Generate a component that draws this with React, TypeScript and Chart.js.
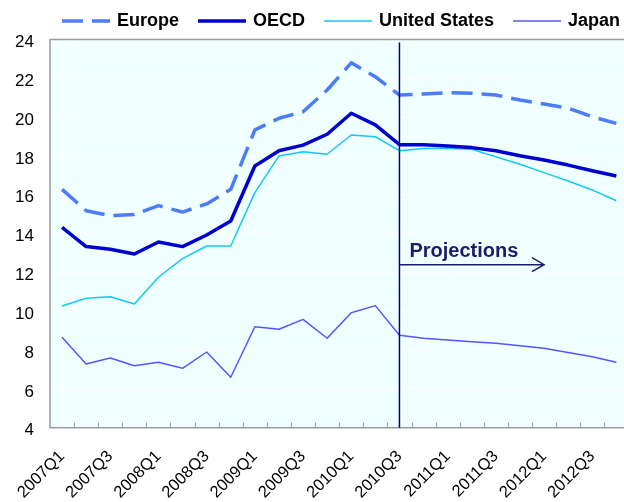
import React, { useEffect, useRef } from "react";
import { Chart, registerables } from "chart.js";

Chart.register(...registerables);

const categories = [
  "2007Q1", "2007Q2", "2007Q3", "2007Q4",
  "2008Q1", "2008Q2", "2008Q3", "2008Q4",
  "2009Q1", "2009Q2", "2009Q3", "2009Q4",
  "2010Q1", "2010Q2", "2010Q3", "2010Q4",
  "2011Q1", "2011Q2", "2011Q3", "2011Q4",
  "2012Q1", "2012Q2", "2012Q3", "2012Q4",
];

const europe = [16.28, 15.18, 14.92, 14.99, 15.44, 15.11, 15.53, 16.28, 19.34, 19.94, 20.28, 21.4, 22.8, 22.08, 21.14, 21.19, 21.26, 21.23, 21.14, 20.88, 20.68, 20.46, 20.02, 19.68];
const oecd = [14.32, 13.33, 13.19, 12.95, 13.57, 13.33, 13.93, 14.65, 17.48, 18.27, 18.56, 19.12, 20.2, 19.6, 18.58, 18.58, 18.51, 18.43, 18.27, 18.01, 17.79, 17.53, 17.24, 16.97];
const unitedStates = [10.27, 10.67, 10.75, 10.37, 11.75, 12.71, 13.36, 13.36, 16.11, 18.0, 18.22, 18.09, 19.08, 18.99, 18.27, 18.39, 18.39, 18.34, 17.96, 17.57, 17.14, 16.71, 16.25, 15.69];
const japan = [8.66, 7.28, 7.59, 7.19, 7.37, 7.06, 7.9, 6.6, 9.2, 9.07, 9.58, 8.61, 9.92, 10.29, 8.76, 8.61, 8.52, 8.43, 8.35, 8.22, 8.09, 7.88, 7.66, 7.37];

const seriesNames = ["Europe", "OECD", "United States", "Japan"];

const yMin = 4;
const yMax = 24;
const yStep = 2;

const projectionStart = "2010Q3";
const projectionArrowEnd = "2012Q1";
const projectionLabel = "Projections";
const projectionTextValue = 13.1;
const projectionArrowValue = 12.4;

const FONT = "'Liberation Sans', Arial, Helvetica, sans-serif";

const decorPlugin = {
  id: "decor",
  beforeDraw(chart: any) {
    const { ctx, chartArea } = chart;
    ctx.save();
    ctx.fillStyle = "#F0FFFF";
    ctx.fillRect(chartArea.left, chartArea.top, chartArea.right - chartArea.left, chartArea.bottom - chartArea.top);
    ctx.restore();
  },
  afterDatasetsDraw(chart: any) {
    const { ctx, chartArea, scales } = chart;
    const x = scales.x;
    const y = scales.y;
    ctx.save();
    // frame
    ctx.strokeStyle = "#9a9a9a";
    ctx.lineWidth = 1.5;
    ctx.strokeRect(chartArea.left, chartArea.top, chartArea.right - chartArea.left, chartArea.bottom - chartArea.top);
    // inward tick marks at category boundaries
    const n = categories.length;
    const step = (x.getPixelForValue(1) - x.getPixelForValue(0));
    ctx.lineWidth = 1;
    ctx.strokeStyle = "#9a9a9a";
    ctx.beginPath();
    for (let i = 1; i < n; i++) {
      const px = Math.round(x.getPixelForValue(i) - step / 2) + 0.5;
      ctx.moveTo(px, chartArea.bottom);
      ctx.lineTo(px, chartArea.bottom - 5);
    }
    ctx.stroke();
    // projection line
    const xs = x.getPixelForValue(categories.indexOf(projectionStart));
    const xe = x.getPixelForValue(categories.indexOf(projectionArrowEnd));
    ctx.strokeStyle = "#000080";
    ctx.lineWidth = 1.5;
    ctx.beginPath();
    ctx.moveTo(xs, chartArea.top + 3);
    ctx.lineTo(xs, chartArea.bottom);
    ctx.stroke();
    // arrow
    const ya = y.getPixelForValue(projectionArrowValue);
    ctx.strokeStyle = "#1c1c6c";
    ctx.lineWidth = 1.5;
    ctx.beginPath();
    ctx.moveTo(xs, ya);
    ctx.lineTo(xe, ya);
    ctx.moveTo(xe - 12, ya - 7);
    ctx.lineTo(xe, ya);
    ctx.lineTo(xe - 12, ya + 7);
    ctx.stroke();
    // label
    ctx.fillStyle = "#1c1c6c";
    ctx.font = `bold 20px ${FONT}`;
    ctx.textAlign = "left";
    ctx.textBaseline = "middle";
    ctx.fillText(projectionLabel, xs + 10, y.getPixelForValue(projectionTextValue));
    ctx.restore();
  },
  afterDraw(chart: any) {
    const { ctx } = chart;
    ctx.save();
    ctx.font = `bold 18px ${FONT}`;
    ctx.textBaseline = "middle";
    ctx.textAlign = "left";
    let cx = 62;
    const cy = 21;
    chart.data.datasets.forEach((ds: any) => {
      ctx.strokeStyle = ds.borderColor;
      ctx.lineWidth = ds.borderWidth;
      ctx.setLineDash(ds.borderDash || []);
      ctx.beginPath();
      ctx.moveTo(cx, cy);
      ctx.lineTo(cx + 48, cy);
      ctx.stroke();
      ctx.setLineDash([]);
      cx += 48 + 7;
      ctx.fillStyle = "#000";
      ctx.fillText(ds.label, cx, cy);
      cx += ctx.measureText(ds.label).width + 19;
    });
    ctx.restore();
  },
};

export default function App() {
  const ref = useRef<HTMLCanvasElement | null>(null);

  useEffect(() => {
    if (!ref.current) return;
    const chart = new Chart(ref.current, {
      type: "line",
      data: {
        labels: categories,
        datasets: [
          { label: seriesNames[0], data: europe, borderColor: "#4d7cf7", borderWidth: 3.5, borderDash: [21, 9], pointRadius: 0, fill: false, tension: 0 },
          { label: seriesNames[1], data: oecd, borderColor: "#0000cc", borderWidth: 3.5, pointRadius: 0, fill: false, tension: 0 },
          { label: seriesNames[2], data: unitedStates, borderColor: "#14c8f5", borderWidth: 1.5, pointRadius: 0, fill: false, tension: 0 },
          { label: seriesNames[3], data: japan, borderColor: "#5555ff", borderWidth: 1.5, pointRadius: 0, fill: false, tension: 0 },
        ],
      },
      options: {
        responsive: false,
        devicePixelRatio: 1,
        animation: false,
        layout: { padding: { top: 39.5, left: 0, right: 3.6, bottom: 0 } },
        plugins: { legend: { display: false }, tooltip: { enabled: false } },
        elements: { line: { borderJoinStyle: "round" } },
        scales: {
          x: {
            type: "category",
            offset: true,
            grid: { display: false },
            border: { display: false },
            ticks: {
              autoSkip: false,
              minRotation: 45,
              maxRotation: 45,
              padding: 11,
              color: "#000",
              font: { family: FONT, size: 16.5 },
              callback: (_v: any, i: number) => (i % 2 === 0 ? categories[i] : ""),
            },
            afterFit: (s: any) => {
              s.height = 74.3;
              s.paddingLeft = 0;
              s.paddingRight = 0;
            },
          },
          y: {
            min: yMin,
            max: yMax,
            grid: { color: "#ffffff", lineWidth: 1, drawTicks: false },
            border: { display: false },
            ticks: {
              stepSize: yStep,
              padding: 16,
              labelOffset: 3,
              color: "#000",
              font: { family: FONT, size: 17 },
            },
            afterFit: (s: any) => { s.width = 50; },
          },
        },
      },
      plugins: [decorPlugin],
    });
    return () => chart.destroy();
  }, []);

  return (
    <div style={{ position: "fixed", left: 0, top: 0, width: 624, height: 502, overflow: "hidden", background: "#fff" }}>
      <canvas ref={ref} width={632} height={502} style={{ display: "block", width: 632, height: 502 }} />
    </div>
  );
}
